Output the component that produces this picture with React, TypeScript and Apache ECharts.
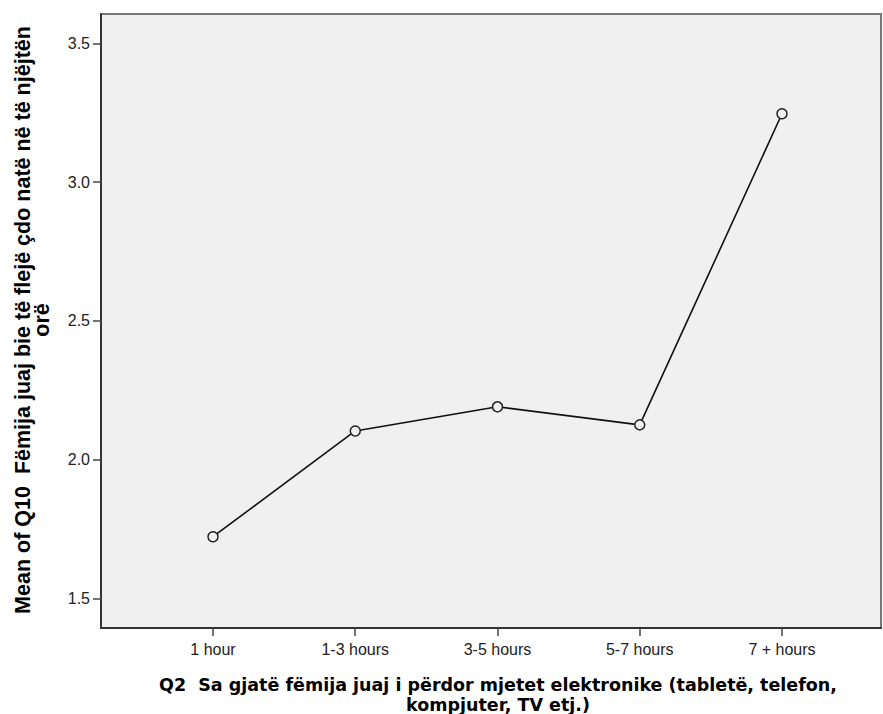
import React, { useEffect, useRef } from "react";
import * as echarts from "echarts";

const categories = ["1 hour", "1-3 hours", "3-5 hours", "5-7 hours", "7 + hours"];
const meanValues = [1.722, 2.103, 2.19, 2.125, 3.246];
const yTicks = [1.5, 2.0, 2.5, 3.0, 3.5];
const xTicks = [1, 2, 3, 4, 5];
const yTitleLines = ["Mean of Q10  Fëmija juaj bie të flejë çdo natë në të njëjtën", "orë"];
const xTitleLines = ["Q2  Sa gjatë fëmija juaj i përdor mjetet elektronike (tabletë, telefon,", "kompjuter, TV etj.)"];

export default function App() {
  const ref = useRef<HTMLDivElement>(null);
  useEffect(() => {
    if (!ref.current) return;
    const chart = echarts.init(ref.current, null, { renderer: "svg" });
    chart.setOption({
      animation: false,
      grid: {
        left: 101,
        top: 14,
        right: 2,
        bottom: 86,
        show: true,
        backgroundColor: "#f0f0f0",
        borderColor: "#777",
        borderWidth: 2,
      },
      xAxis: {
        type: "value",
        min: 0.2127,
        max: 5.696,
        splitLine: { show: false },
        axisLine: { show: true, lineStyle: { color: "#333", width: 2 } },
        axisTick: {
          show: true,
          customValues: xTicks,
          length: 8,
          lineStyle: { color: "#444", width: 1.5 },
        },
        axisLabel: {
          customValues: xTicks,
          formatter: (v: number) => categories[Math.round(v) - 1] ?? "",
          color: "#222",
          fontFamily: "Liberation Sans, Arial, sans-serif",
          fontSize: 16,
          margin: 13,
        },
      },
      yAxis: {
        type: "value",
        min: 1.393,
        max: 3.6056,
        splitLine: { show: false },
        axisLine: { show: true, lineStyle: { color: "#333", width: 2 } },
        axisTick: {
          show: true,
          customValues: yTicks,
          length: 8,
          lineStyle: { color: "#444", width: 1.5 },
        },
        axisLabel: {
          customValues: yTicks,
          formatter: (v: number) => v.toFixed(1),
          color: "#222",
          fontFamily: "Liberation Sans, Arial, sans-serif",
          fontSize: 16,
          margin: 11,
        },
      },
      series: [
        {
          type: "line",
          data: meanValues.map((v, i) => [i + 1, v]),
          symbol: "circle",
          symbolSize: 10,
          showSymbol: true,
          lineStyle: { color: "#111", width: 1.6 },
          itemStyle: { color: "#f0f0f0", borderColor: "#222", borderWidth: 1.5 },
          z: 3,
        },
      ],
      graphic: [
        {
          type: "text",
          x: 32,
          y: 320,
          rotation: Math.PI / 2,
          style: {
            text: yTitleLines.join("\n"),
            fontFamily: "Liberation Sans, Arial, sans-serif",
            fontWeight: "bold",
            fontSize: 21.5,
            fill: "#000",
            align: "center",
            verticalAlign: "middle",
            lineHeight: 19,
          },
        },
        {
          type: "text",
          x: 498,
          y: 695,
          style: {
            text: xTitleLines.join("\n"),
            fontFamily: "DejaVu Sans, sans-serif",
            fontWeight: "bold",
            fontSize: 17.5,
            fill: "#000",
            align: "center",
            verticalAlign: "middle",
            lineHeight: 20,
          },
        },
      ],
    });
    return () => chart.dispose();
  }, []);
  return <div ref={ref} style={{ width: 883, height: 714, position: "absolute", left: 0, top: 0 }} />;
}
